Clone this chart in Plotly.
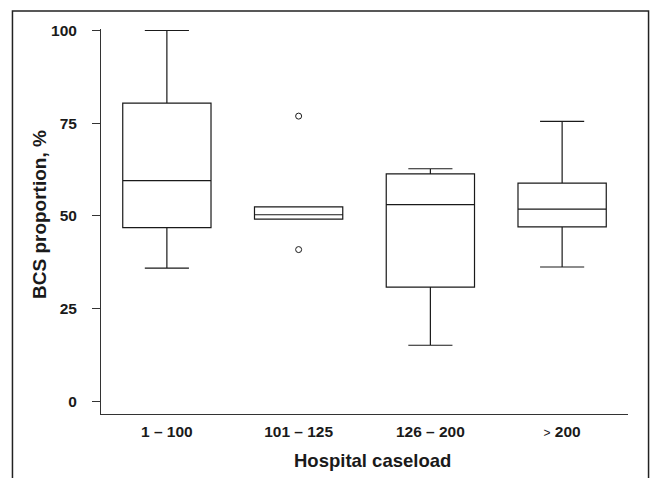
import plotly.graph_objects as go

categories = ["1 – 100", "101 – 125", "126 – 200", "> 200"]
tick_labels = ["1 – 100", "101 – 125", "126 – 200",
               "<span style='font-weight:normal;font-size:12px'>&gt;</span> 200"]
lower_whisker = [35.9, 49.1, 15.1, 36.2]
q1 = [46.8, 49.1, 30.8, 47.0]
median = [59.5, 50.3, 53.0, 51.8]
q3 = [80.4, 52.4, 61.3, 58.8]
upper_whisker = [100.0, 52.4, 62.7, 75.5]
outlier_cat = ["101 – 125", "101 – 125"]
outlier_val = [76.9, 40.9]
y_ticks = [0, 25, 50, 75, 100]

FONT = "Liberation Sans, Arial, Helvetica, sans-serif"
INK = "#1a1a1a"

fig = go.Figure()
fig.add_trace(go.Box(
    x=categories, q1=q1, median=median, q3=q3,
    lowerfence=lower_whisker, upperfence=upper_whisker,
    width=0.67, whiskerwidth=0.5,
    fillcolor="rgba(255,255,255,0)",
    line=dict(color=INK, width=1.2),
    boxpoints=False, showlegend=False, hoverinfo="skip",
))
fig.add_trace(go.Scatter(
    x=outlier_cat, y=outlier_val, mode="markers",
    marker=dict(symbol="circle-open", size=6, color=INK, line=dict(width=1)),
    showlegend=False, hoverinfo="skip",
))

fig.update_layout(
    width=653, height=478,
    margin=dict(l=101, r=25, t=29, b=64),
    paper_bgcolor="white", plot_bgcolor="white",
    font=dict(family=FONT, color=INK),
    xaxis=dict(
        type="category", categoryorder="array", categoryarray=categories,
        range=[-0.5, 3.5], tickvals=categories, ticktext=tick_labels,
        showgrid=False, zeroline=False, showline=True, linecolor="#333", linewidth=1,
        ticks="", tickfont=dict(family=FONT, size=15.5, weight="bold", color=INK),
        ticklabelstandoff=3,
    ),
    yaxis=dict(
        range=[-3.45, 100.4], tickvals=y_ticks, ticktext=[str(v) for v in y_ticks],
        showgrid=False, zeroline=False, showline=True, linecolor="#333", linewidth=1,
        ticks="outside", ticklen=8, tickcolor="#333", tickwidth=1,
        tickfont=dict(family=FONT, size=15.5, weight="bold", color=INK),
        ticklabelstandoff=12,
    ),
    annotations=[
        dict(text="Hospital caseload", xref="paper", yref="paper",
             x=0.516, y=-0.122, xanchor="center", yanchor="middle", showarrow=False,
             font=dict(family=FONT, size=18.5, weight="bold", color=INK)),
        dict(text="BCS proportion, %", xref="paper", yref="paper",
             x=-0.1157, y=0.517, xanchor="center", yanchor="middle", showarrow=False,
             textangle=-90,
             font=dict(family=FONT, size=19, weight="bold", color=INK)),
    ],
    shapes=[
        dict(type="rect", xref="paper", yref="paper",
             x0=-0.168, x1=1.039, y0=-0.2, y1=1.0468,
             line=dict(color="#222", width=1.5), fillcolor="rgba(0,0,0,0)", layer="below"),
    ],
)

fig.write_html("out.html")
